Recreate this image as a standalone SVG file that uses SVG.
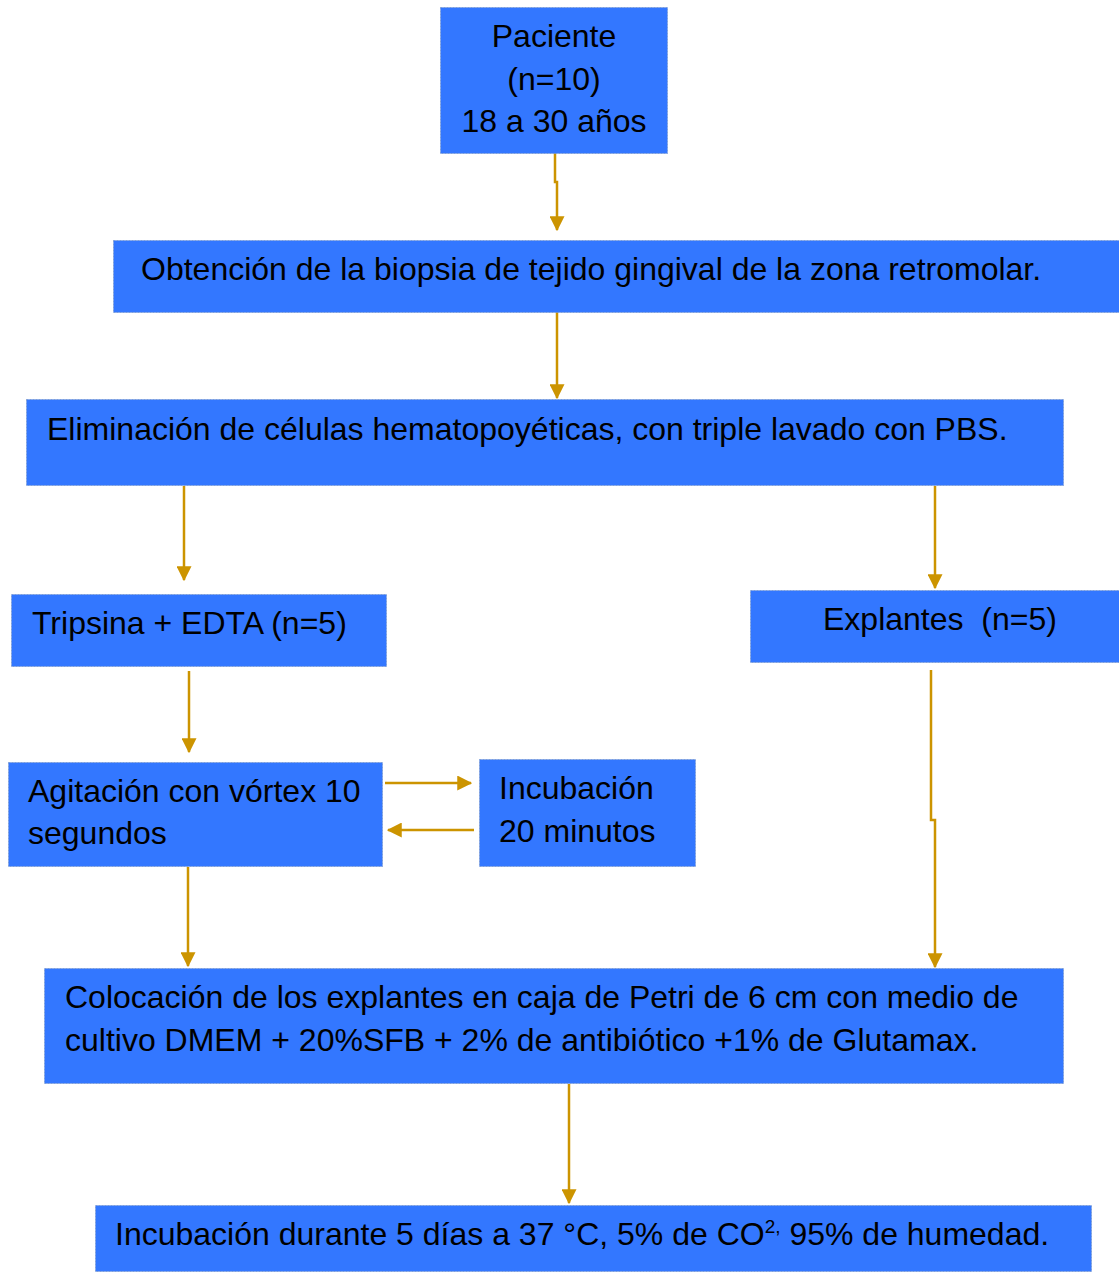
<svg xmlns="http://www.w3.org/2000/svg" width="1119" height="1272" viewBox="0 0 1119 1272">
<style>
.box{fill:#3377ff;stroke:#7f9fd8;stroke-width:1;stroke-dasharray:2 1}
.t{font-family:"Liberation Sans",Arial,sans-serif;font-size:32px;fill:#000}
.c{fill:none;stroke:#cc9400;stroke-width:2.5}
</style>
<defs>
<marker id="ah" markerWidth="6" markerHeight="6" refX="5.5" refY="3" orient="auto" markerUnits="strokeWidth">
<path d="M0,0 L6,3 L0,6 z" fill="#cc9400"/>
</marker>
</defs>
<rect width="1119" height="1272" fill="#fff"/>
<g id="connectors">
<path class="c" d="M555,153 V182 H557 V230" marker-end="url(#ah)"/>
<path class="c" d="M557,312 V398" marker-end="url(#ah)"/>
<path class="c" d="M184,486 V580" marker-end="url(#ah)"/>
<path class="c" d="M935,486 V588" marker-end="url(#ah)"/>
<path class="c" d="M189,671 V752" marker-end="url(#ah)"/>
<path class="c" d="M931,670 V820 H935 V967" marker-end="url(#ah)"/>
<path class="c" d="M385,783 H471" marker-end="url(#ah)"/>
<path class="c" d="M474,830 H388" marker-end="url(#ah)"/>
<path class="c" d="M188,867 V966" marker-end="url(#ah)"/>
<path class="c" d="M569,1084 V1203" marker-end="url(#ah)"/>
</g>
<g id="n1"><rect class="box" x="440.5" y="7.5" width="227" height="146"/>
<text class="t" text-anchor="middle" x="554" y="47">Paciente</text>
<text class="t" text-anchor="middle" x="554" y="90">(n=10)</text>
<text class="t" text-anchor="middle" x="554" y="132">18 a 30 años</text></g>
<g id="n2"><rect class="box" x="113.5" y="240.5" width="1006" height="72"/>
<text class="t" x="141" y="280">Obtención de la biopsia de tejido gingival de la zona retromolar.</text></g>
<g id="n3"><rect class="box" x="26.5" y="399.5" width="1037" height="86"/>
<text class="t" x="47" y="440">Eliminación de células hematopoyéticas, con triple lavado con PBS.</text></g>
<g id="n4"><rect class="box" x="11.5" y="594.5" width="375" height="72"/>
<text class="t" x="32" y="634">Tripsina + EDTA (n=5)</text></g>
<g id="n5"><rect class="box" x="750.5" y="590.5" width="369" height="72"/>
<text class="t" x="823" y="630" xml:space="preserve">Explantes  (n=5)</text></g>
<g id="n6"><rect class="box" x="8.5" y="762.5" width="374" height="104"/>
<text class="t" x="28" y="802">Agitación con vórtex 10</text>
<text class="t" x="28" y="844">segundos</text></g>
<g id="n7"><rect class="box" x="479.5" y="759.5" width="216" height="107"/>
<text class="t" x="499" y="799">Incubación</text>
<text class="t" x="499" y="842">20 minutos</text></g>
<g id="n8"><rect class="box" x="44.5" y="968.5" width="1019" height="115"/>
<text class="t" x="65" y="1008">Colocación de los explantes en caja de Petri de 6 cm con medio de</text>
<text class="t" x="65" y="1051">cultivo DMEM + 20%SFB + 2% de antibiótico +1% de Glutamax.</text></g>
<g id="n9"><rect class="box" x="95.5" y="1205.5" width="996" height="66"/>
<text class="t" x="115" y="1245">Incubación durante 5 días a 37 °C, 5% de CO<tspan font-size="19" dy="-12">2,</tspan><tspan dy="12"> 95% de humedad.</tspan></text></g>
</svg>
